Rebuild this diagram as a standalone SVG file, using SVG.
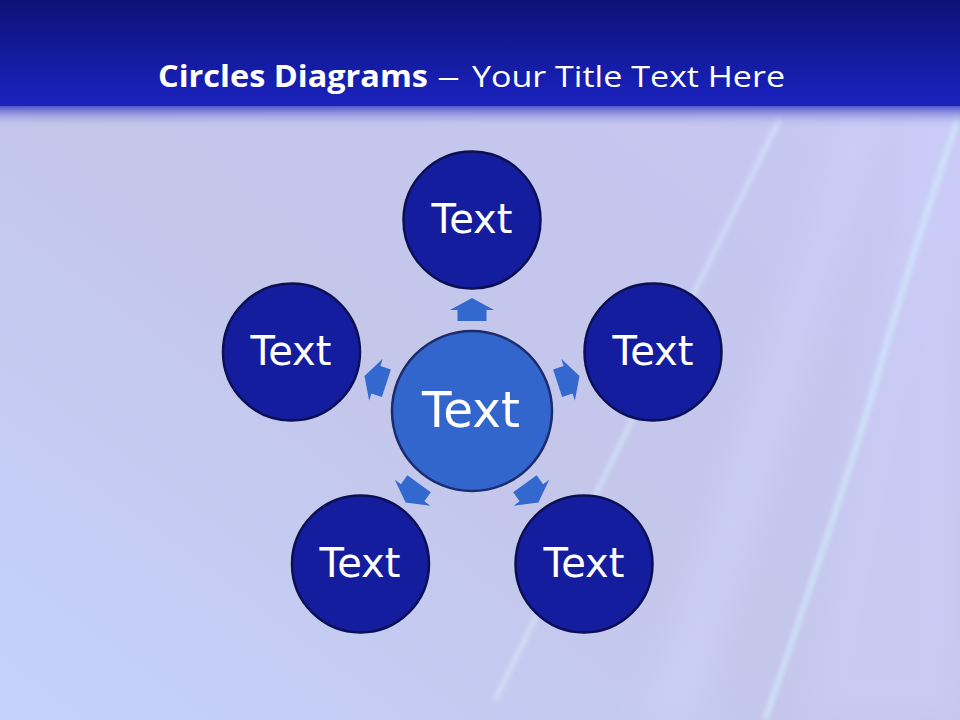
<svg xmlns="http://www.w3.org/2000/svg" width="960" height="720" viewBox="0 0 960 720">
<defs>
<style>
.outer{fill:#151d9f;stroke:#0a1052;stroke-width:2.5}
.center{fill:#3366cc;stroke:#1b2c6c;stroke-width:2.5}
.lbl{font-family:"DejaVu Sans",Verdana,sans-serif;fill:#ffffff;text-anchor:middle}
.arrow{fill:#3368cf}
.ttl{font-family:'Open Sans','Noto Sans',sans-serif;font-size:30px;fill:#ffffff}
</style>
<linearGradient id="bg" x1="0" y1="1" x2="1" y2="0">
<stop offset="0" stop-color="#c4d2fc"/>
<stop offset="0.45" stop-color="#c4c6ea"/>
<stop offset="0.75" stop-color="#c6c6f0"/>
<stop offset="1" stop-color="#c8ccf6"/>
</linearGradient>
<linearGradient id="hdr" x1="0" y1="0" x2="0" y2="1">
<stop offset="0" stop-color="#0c1274"/>
<stop offset="0.85" stop-color="#1820b6"/>
<stop offset="1" stop-color="#1a22ba"/>
</linearGradient>
<linearGradient id="fade" x1="0" y1="0" x2="0" y2="1">
<stop offset="0" stop-color="#2a32c0" stop-opacity="0.9"/>
<stop offset="1" stop-color="#c4c6ec" stop-opacity="0"/>
</linearGradient>
<filter id="blur" x="-50%" y="-50%" width="200%" height="200%"><feGaussianBlur stdDeviation="2.5"/></filter>
<filter id="blur2" x="-50%" y="-50%" width="200%" height="200%"><feGaussianBlur stdDeviation="16"/></filter>
<path id="arr" d="M0,-113 L22,-101 L14.5,-101 L14.5,-90 L-14.5,-90 L-14.5,-101 L-22,-101 Z"/>
</defs>
<rect width="960" height="720" fill="url(#bg)"/>
<g id="streaks">
<path d="M850,110 L880,110 L700,720 L640,720 Z" fill="#d2d6ff" opacity="0.45" filter="url(#blur2)"/>
<path d="M920,110 L960,110 L960,720 L800,720 Z" fill="#d0d4ff" opacity="0.35" filter="url(#blur2)"/>
<path d="M780,118 Q730,220 697,287 T495,700" fill="none" stroke="#d8eaff" stroke-width="4" opacity="0.8" filter="url(#blur)"/>
<path d="M958,118 Q910,260 880,367 T765,720" fill="none" stroke="#d4ecff" stroke-width="5" opacity="0.8" filter="url(#blur)"/>
</g>
<rect x="0" y="104" width="960" height="24" fill="url(#fade)"/>
<rect x="0" y="0" width="960" height="106" fill="url(#hdr)"/>
<g id="title">
<text class="ttl" x="158" y="87" font-weight="bold" textLength="270" lengthAdjust="spacingAndGlyphs">Circles Diagrams</text>
<text class="ttl" x="437" y="87" textLength="23" lengthAdjust="spacingAndGlyphs">–</text>
<text class="ttl" x="472" y="87" textLength="313" lengthAdjust="spacingAndGlyphs">Your Title Text Here</text>
</g>
<g id="connectors">
<use href="#arr" class="arrow" transform="translate(472,411) rotate(0)"/>
<use href="#arr" class="arrow" transform="translate(472,411) rotate(72)"/>
<use href="#arr" class="arrow" transform="translate(472,411) rotate(144)"/>
<use href="#arr" class="arrow" transform="translate(472,411) rotate(216)"/>
<use href="#arr" class="arrow" transform="translate(472,411) rotate(288)"/>
</g>
<g id="node-center">
<circle class="center" cx="472" cy="411" r="80"/>
<text class="lbl" x="471" y="427" font-size="50" textLength="98" lengthAdjust="spacingAndGlyphs">Text</text>
</g>
<g id="node-top">
<circle class="outer" cx="472" cy="220" r="68.5"/>
<text class="lbl" x="472" y="233" font-size="40" textLength="81" lengthAdjust="spacingAndGlyphs">Text</text>
</g>
<g id="node-right">
<circle class="outer" cx="653" cy="352" r="68.5"/>
<text class="lbl" x="653" y="365" font-size="40" textLength="81" lengthAdjust="spacingAndGlyphs">Text</text>
</g>
<g id="node-left">
<circle class="outer" cx="291.5" cy="352" r="68.5"/>
<text class="lbl" x="291" y="365" font-size="40" textLength="81" lengthAdjust="spacingAndGlyphs">Text</text>
</g>
<g id="node-bottom-left">
<circle class="outer" cx="360.5" cy="564" r="68.5"/>
<text class="lbl" x="360" y="577" font-size="40" textLength="81" lengthAdjust="spacingAndGlyphs">Text</text>
</g>
<g id="node-bottom-right">
<circle class="outer" cx="584" cy="564" r="68.5"/>
<text class="lbl" x="584" y="577" font-size="40" textLength="81" lengthAdjust="spacingAndGlyphs">Text</text>
</g>
</svg>
